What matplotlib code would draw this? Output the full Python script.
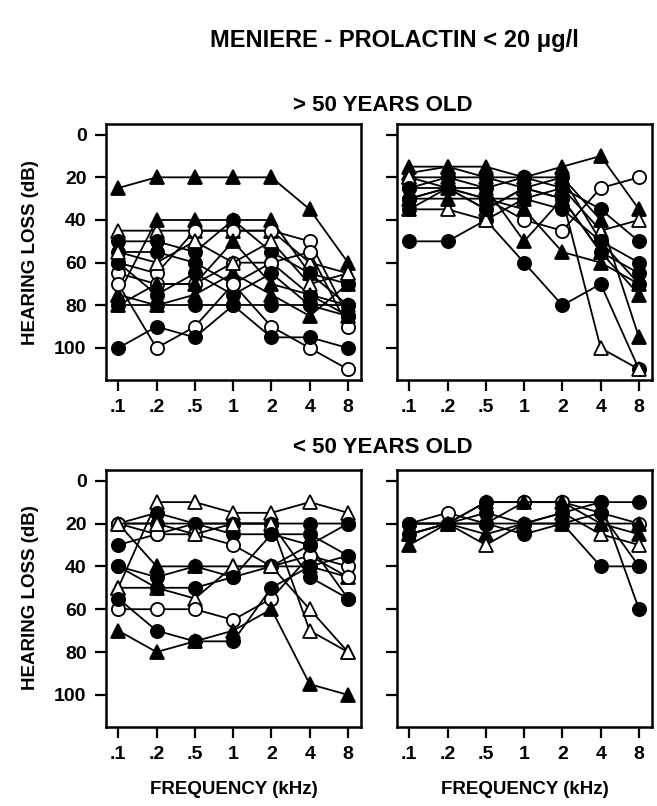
#!/usr/bin/env python3
"""Meniere audiograms, prolactin < 20 ug/l (four panels)."""

import matplotlib
matplotlib.use("Agg")
import matplotlib.pyplot as plt

plt.rcParams["font.family"] = ["Liberation Sans Narrow", "Liberation Sans", "DejaVu Sans"]
plt.rcParams["font.weight"] = "bold"

freq_labels = [".1", ".2", ".5", "1", "2", "4", "8"]
y_ticks = [0, 20, 40, 60, 80, 100]

# marker code: "tf" filled triangle, "to" open triangle, "cf" filled circle, "co" open circle
old_left = [
    ("tf", [25, 20, 20, 20, 20, 35, 60]),
    ("to", [45, 45, 45, 45, 45, 60, 65]),
    ("tf", [75, 40, 40, 40, 40, 65, 80]),
    ("cf", [50, 50, 55, 40, 55, 65, 70]),
    ("co", [60, 65, 45, 45, 45, 50, 85]),
    ("cf", [55, 55, 60, 70, 60, 75, 80]),
    ("co", [65, 70, 70, 60, 60, 55, 90]),
    ("cf", [60, 75, 65, 75, 65, 80, 85]),
    ("tf", [75, 80, 75, 65, 75, 85, 70]),
    ("cf", [80, 80, 80, 80, 80, 80, 80]),
    ("co", [70, 100, 90, 70, 90, 100, 110]),
    ("cf", [100, 90, 95, 80, 95, 95, 100]),
    ("to", [55, 60, 50, 60, 50, 70, 65]),
    ("tf", [80, 70, 70, 50, 70, 75, 85]),
]
old_right = [
    ("tf", [15, 15, 15, 20, 15, 10, 35]),
    ("cf", [50, 50, 40, 60, 80, 70, 110]),
    ("to", [35, 35, 40, 30, 25, 45, 40]),
    ("tf", [20, 20, 25, 50, 30, 55, 75]),
    ("co", [30, 25, 30, 40, 45, 25, 20]),
    ("cf", [25, 20, 20, 20, 25, 35, 50]),
    ("cf", [30, 25, 30, 30, 35, 50, 60]),
    ("tf", [18, 15, 20, 25, 20, 40, 95]),
    ("to", [20, 25, 35, 25, 30, 100, 110]),
    ("tf", [30, 30, 30, 35, 55, 60, 70]),
    ("cf", [35, 25, 35, 25, 30, 55, 65]),
    ("cf", [25, 25, 25, 20, 20, 50, 70]),
]
young_left = [
    ("to", [50, 10, 10, 15, 15, 10, 15]),
    ("cf", [20, 15, 20, 20, 20, 20, 20]),
    ("cf", [20, 20, 20, 25, 25, 25, 35]),
    ("cf", [30, 25, 20, 20, 20, 45, 55]),
    ("co", [20, 25, 25, 30, 40, 35, 40]),
    ("cf", [40, 45, 40, 45, 40, 30, 55]),
    ("tf", [20, 40, 40, 40, 40, 40, 45]),
    ("to", [50, 50, 55, 40, 40, 60, 80]),
    ("co", [60, 60, 60, 65, 55, 35, 45]),
    ("cf", [55, 70, 75, 75, 50, 40, 35]),
    ("tf", [70, 80, 75, 70, 60, 95, 100]),
    ("to", [20, 20, 25, 20, 20, 70, 80]),
    ("cf", [40, 50, 50, 45, 25, 30, 20]),
]
young_right = [
    ("cf", [20, 20, 10, 10, 10, 10, 10]),
    ("co", [20, 15, 20, 10, 10, 15, 20]),
    ("cf", [20, 20, 15, 20, 20, 15, 40]),
    ("cf", [25, 20, 20, 25, 20, 40, 40]),
    ("tf", [30, 20, 25, 20, 20, 20, 25]),
    ("to", [25, 20, 30, 20, 15, 25, 30]),
    ("cf", [20, 20, 20, 20, 15, 10, 60]),
    ("tf", [25, 20, 10, 10, 10, 20, 20]),
]

STYLE = {
    "tf": dict(marker="^", mfc="black"),
    "to": dict(marker="^", mfc="white"),
    "cf": dict(marker="o", mfc="black"),
    "co": dict(marker="o", mfc="white"),
}

W, H = 657, 806
fig = plt.figure(figsize=(W / 100, H / 100), dpi=100)


def make_axes(x0, y0, x1, y1):
    return fig.add_axes([x0 / W, 1 - y1 / H, (x1 - x0) / W, (y1 - y0) / H])


panels = [
    (make_axes(106, 124, 361, 380), old_left, True),
    (make_axes(397, 124, 652, 380), old_right, False),
    (make_axes(106, 470, 361, 727), young_left, True),
    (make_axes(397, 470, 652, 727), young_right, False),
]

x = list(range(len(freq_labels)))
for ax, series, show_y in panels:
    for code, vals in series:
        ax.plot(x, vals, color="black", lw=1.3, ms=9.5, mec="black", mew=1.3,
                **STYLE[code])
    ax.set_xlim(-0.32, 6.34)
    ax.set_ylim(115, -5)
    ax.set_xticks(x)
    ax.set_xticklabels(freq_labels, fontsize=14, fontweight="bold")
    ax.set_yticks(y_ticks)
    if show_y:
        ax.set_yticklabels([str(v) for v in y_ticks], fontsize=14, fontweight="bold")
    else:
        ax.set_yticklabels([])
    ax.tick_params(direction="out", length=8, width=1.6, pad=6)
    for sp in ax.spines.values():
        sp.set_linewidth(1.8)

fig.text(0.60, 0.950, "MENIERE - PROLACTIN < 20 μg/l", ha="center", va="center",
         fontsize=17, fontweight="bold")
fig.text(0.583, 0.869, "> 50 YEARS OLD", ha="center", va="center",
         fontsize=16, fontweight="bold")
fig.text(0.583, 0.445, "< 50 YEARS OLD", ha="center", va="center",
         fontsize=16, fontweight="bold")
for yc in (0.687, 0.258):
    fig.text(0.046, yc, "HEARING LOSS (dB)", rotation=90, ha="center", va="center",
             fontsize=13.5, fontweight="bold")
for xc in ((106 + 361) / 2 / W, (397 + 652) / 2 / W):
    fig.text(xc, 0.02, "FREQUENCY (kHz)", ha="center", va="center",
             fontsize=13.5, fontweight="bold")

fig.savefig("out.png", dpi=100)
